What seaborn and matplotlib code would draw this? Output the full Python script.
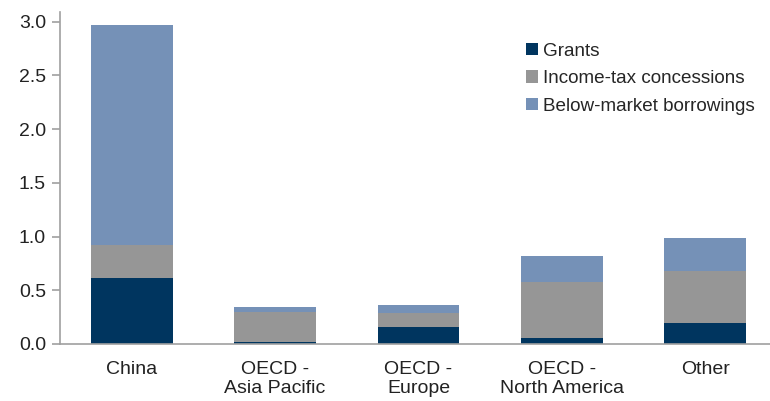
import numpy as np
import pandas as pd
import matplotlib
matplotlib.use("Agg")
import matplotlib.pyplot as plt
import seaborn as sns

regions = ["China", "OECD -\nAsia Pacific", "OECD -\nEurope", "OECD -\nNorth America", "Other"]
grants = [0.61, 0.02, 0.155, 0.06, 0.20]
income_tax = [0.31, 0.28, 0.135, 0.52, 0.48]
below_market = [2.05, 0.04, 0.07, 0.24, 0.31]

series = ["Grants", "Income-tax concessions", "Below-market borrowings"]
colors = ["#00355F", "#969696", "#7591B7"]

df = pd.DataFrame({"region": regions, "Grants": grants,
                   "Income-tax concessions": income_tax,
                   "Below-market borrowings": below_market})
cum = df[series].cumsum(axis=1)

sns.set_style("white")
plt.rcParams["font.family"] = ["Liberation Sans", "DejaVu Sans"]

fig = plt.figure(figsize=(7.7, 4.01), dpi=100)
ax = fig.add_axes([60 / 770, 57 / 401, 717 / 770, 332 / 401])

# draw tallest stack first so the lower pieces sit on top
for name, col in zip(series[::-1], colors[::-1]):
    sns.barplot(x=df["region"], y=cum[name], color=col, width=0.57,
                ax=ax, label=name, saturation=1, linewidth=0)

ax.set_ylim(0, 3.09)
ax.set_xlim(-0.5, 4.5)
ax.set_yticks(np.arange(0, 3.01, 0.5))
ax.set_yticklabels([f"{v:.1f}" for v in np.arange(0, 3.01, 0.5)])
ax.set_xlabel("")
ax.set_ylabel("")

ax.set_xticks(np.arange(0.5, 4.5, 1.0), minor=True)
ax.tick_params(axis="x", which="major", length=0, labelsize=14, pad=12, colors="#222222")
ax.tick_params(axis="x", which="minor", length=6, width=1.2, color="#A0A0A0", direction="out")
ax.tick_params(axis="y", length=6, width=1.2, color="#A0A0A0", labelsize=14,
               direction="out", left=True, labelcolor="#222222", pad=4)
for lbl in ax.get_xticklabels():
    lbl.set_linespacing(1.2)

for s in ["top", "right"]:
    ax.spines[s].set_visible(False)
for s in ["left", "bottom"]:
    ax.spines[s].set_color("#A0A0A0")
    ax.spines[s].set_linewidth(1.2)

handles, labels = ax.get_legend_handles_labels()
order = [labels.index(n) for n in series]
ax.legend([handles[i] for i in order], [labels[i] for i in order],
          loc="upper left", bbox_to_anchor=(458 / 717, 0.93), frameon=False,
          fontsize=13.6, handlelength=0.65, handleheight=0.65, handletextpad=0.25,
          labelspacing=0.55, borderaxespad=0)

fig.savefig("out.png", dpi=100)
